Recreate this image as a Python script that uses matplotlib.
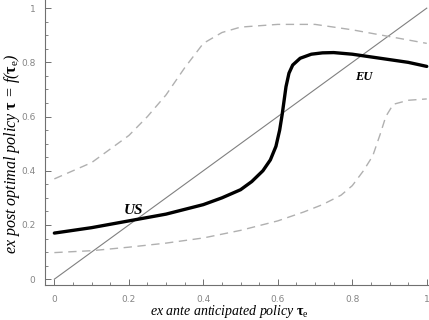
import matplotlib
matplotlib.use("Agg")
import matplotlib.pyplot as plt
from matplotlib.ticker import MultipleLocator

plt.rcParams["mathtext.fontset"] = "custom"
plt.rcParams["mathtext.rm"] = "Liberation Serif"
plt.rcParams["mathtext.it"] = "Liberation Serif:italic"
plt.rcParams["mathtext.bf"] = "Liberation Serif:bold"

# thick black policy curve
x_policy = [0, 0.1, 0.2, 0.3, 0.4, 0.45, 0.5, 0.53, 0.56, 0.58, 0.595, 0.605, 0.612,
            0.617, 0.622, 0.63, 0.64, 0.66, 0.69, 0.72, 0.75, 0.8, 0.85, 0.9, 0.95, 1.0]
y_policy = [0.17, 0.19, 0.215, 0.24, 0.275, 0.3, 0.33, 0.36, 0.40, 0.44, 0.49, 0.55, 0.61,
            0.66, 0.71, 0.76, 0.79, 0.815, 0.83, 0.835, 0.836, 0.83, 0.82, 0.81, 0.80, 0.785]

# upper dashed band
x_upper = [0, 0.1, 0.2, 0.25, 0.3, 0.35, 0.4, 0.45, 0.5, 0.6, 0.7, 0.8, 0.9, 1.0]
y_upper = [0.37, 0.43, 0.53, 0.6, 0.68, 0.78, 0.87, 0.91, 0.93, 0.94, 0.94, 0.92, 0.895, 0.87]

# lower dashed band
x_lower = [0, 0.1, 0.2, 0.3, 0.4, 0.5, 0.6, 0.67, 0.72, 0.77, 0.8, 0.83, 0.855, 0.875,
           0.89, 0.91, 0.95, 1.0]
y_lower = [0.098, 0.105, 0.118, 0.133, 0.152, 0.18, 0.215, 0.248, 0.275, 0.31, 0.345,
           0.40, 0.455, 0.535, 0.6, 0.645, 0.66, 0.665]

# 45-degree line
x_diag = [0, 1]
y_diag = [0, 1]

ticks = [0, 0.2, 0.4, 0.6, 0.8, 1]
tick_labels = ["0", "0.2", "0.4", "0.6", "0.8", "1"]

fig = plt.figure(figsize=(4.29, 3.2), dpi=100)
ax = fig.add_axes([0.105, 0.109, 0.895, 0.891])

ax.plot(x_diag, y_diag, color="#808080", lw=0.8)
ax.plot(x_upper, y_upper, color="#b0b0b0", lw=1.0, dashes=(6, 4))
ax.plot(x_lower, y_lower, color="#b0b0b0", lw=1.0, dashes=(6, 4))
ax.plot(x_policy, y_policy, color="black", lw=2.4, solid_capstyle="round",
        solid_joinstyle="round")

ax.text(0.212, 0.255, "US", family="Liberation Serif", style="italic",
        weight="bold", fontsize=11, ha="center", va="center")
ax.text(0.83, 0.745, "EU", family="Liberation Serif", style="italic",
        weight="bold", fontsize=9, ha="center", va="center")

ax.set_xlim(-0.025, 1.006)
ax.set_ylim(-0.022, 1.03)

for s in ["top", "right"]:
    ax.spines[s].set_visible(False)
for s in ["left", "bottom"]:
    ax.spines[s].set_color("#707070")
    ax.spines[s].set_linewidth(0.8)

ax.set_xticks(ticks)
ax.set_xticklabels(tick_labels)
ax.set_yticks(ticks)
ax.set_yticklabels(tick_labels)
ax.xaxis.set_minor_locator(MultipleLocator(0.05))
ax.yaxis.set_minor_locator(MultipleLocator(0.05))
ax.tick_params(which="major", direction="in", length=4, width=0.7, color="#707070",
               labelsize=6.5, labelcolor="#858585", pad=7)
ax.tick_params(which="minor", direction="in", length=2.5, width=0.6, color="#707070")

fig.text(0.535, 0.028, r"ex ante anticipated policy $\mathbf{\tau}_{\mathrm{e}}$",
         family="Liberation Serif", style="italic", fontsize=10,
         ha="center", va="center")
fig.text(0.027, 0.52, r"ex post optimal policy $\mathbf{\tau}$ = $f$($\mathbf{\tau}_{\mathrm{e}}$)",
         family="Liberation Serif", style="italic", fontsize=11.5,
         ha="center", va="center", rotation=90)

fig.savefig("out.png", dpi=100)
